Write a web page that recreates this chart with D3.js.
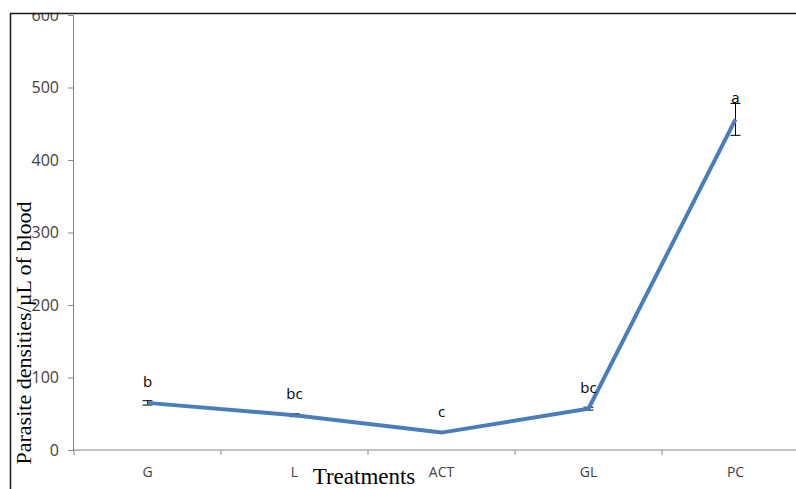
<!DOCTYPE html>
<html><head><meta charset="utf-8">
<script src="https://cdn.jsdelivr.net/npm/d3@7"></script>
<style>body{margin:0;background:#fff}svg{display:block}</style>
</head><body>
<svg id="c" width="796" height="489"></svg>
<script>
const categories = ["G", "L", "ACT", "GL", "PC"];
const values = [65, 48, 24, 57, 456];
const errors = [3, 2, 0, 2, 22];
const letters = ["b", "bc", "c", "bc", "a"];
const yTicks = [0, 100, 200, 300, 400, 500, 600];

const svg = d3.select("#c");
const x = d3.scaleBand().domain(categories).range([74, 74 + 147 * 5]).paddingInner(0).paddingOuter(0);
const y = d3.scaleLinear().domain([0, 600]).range([450, 15]);
const tickFont = "'Open Sans', 'Liberation Sans', sans-serif";
const serif = "'Liberation Serif', 'DejaVu Serif', serif";

const g = svg.append("g");
// Y axis
const ya = g.append("g").attr("transform", "translate(73,0)")
  .call(d3.axisLeft(y).tickValues(yTicks).tickSize(5).tickPadding(9));
ya.select(".domain").attr("stroke", "#868686");
ya.selectAll(".tick line").attr("stroke", "#868686");
ya.selectAll(".tick text").attr("font-family", tickFont).attr("font-size", 16).attr("fill", "#404040");

// X axis
const xa = g.append("g").attr("transform", "translate(0,450)")
  .call(d3.axisBottom(x).tickSize(0).tickPadding(17));
xa.select(".domain").attr("stroke", "#868686").attr("d", "M73,0H796");
xa.selectAll(".tick text").attr("font-family", tickFont).attr("font-size", 14).attr("fill", "#404040");
// boundary ticks
g.append("g").selectAll("line").data(categories).join("line")
  .attr("x1", d => x(d)).attr("x2", d => x(d))
  .attr("y1", 450).attr("y2", 455).attr("stroke", "#868686");

// Error bars
const eb = g.append("g").attr("stroke", "#000").attr("stroke-width", 1);
categories.forEach((c, i) => {
  if (!errors[i]) return;
  const cx = x(c) + x.bandwidth() / 2;
  eb.append("line").attr("x1", cx).attr("x2", cx).attr("y1", y(values[i] + errors[i])).attr("y2", y(values[i] - errors[i]));
  eb.append("line").attr("x1", cx - 5).attr("x2", cx + 5).attr("y1", y(values[i] + errors[i])).attr("y2", y(values[i] + errors[i]));
  eb.append("line").attr("x1", cx - 5).attr("x2", cx + 5).attr("y1", y(values[i] - errors[i])).attr("y2", y(values[i] - errors[i]));
});

// Line
const line = d3.line().x((d, i) => x(categories[i]) + x.bandwidth() / 2).y(d => y(d));
g.append("path").datum(values).attr("d", line).attr("fill", "none")
  .attr("stroke", "#4a7ebb").attr("stroke-width", 4).attr("stroke-linejoin", "miter");

// Letters
g.append("g").selectAll("text").data(letters).join("text")
  .attr("x", (d, i) => x(categories[i]) + x.bandwidth() / 2)
  .attr("y", (d, i) => y(values[i]) - 16)
  .attr("text-anchor", "middle").attr("font-family", tickFont).attr("font-size", 15).attr("fill", "#000")
  .text(d => d);

// Axis titles
svg.append("text").attr("transform", "translate(31,333) rotate(-90)")
  .attr("text-anchor", "middle").attr("font-family", serif).attr("font-size", 22).attr("fill", "#000")
  .text("Parasite densities/µL of blood");
svg.append("text").attr("x", 364).attr("y", 484)
  .attr("text-anchor", "middle").attr("font-family", serif).attr("font-size", 23).attr("fill", "#000")
  .text("Treatments");

// crop above frame and frame
svg.append("rect").attr("x", 0).attr("y", 0).attr("width", 796).attr("height", 12.5).attr("fill", "#fff");
svg.append("path").attr("d", "M10.5,489V13.5H796").attr("fill", "none").attr("stroke", "#1a1a1a").attr("stroke-width", 1.5);
</script>
</body></html>
